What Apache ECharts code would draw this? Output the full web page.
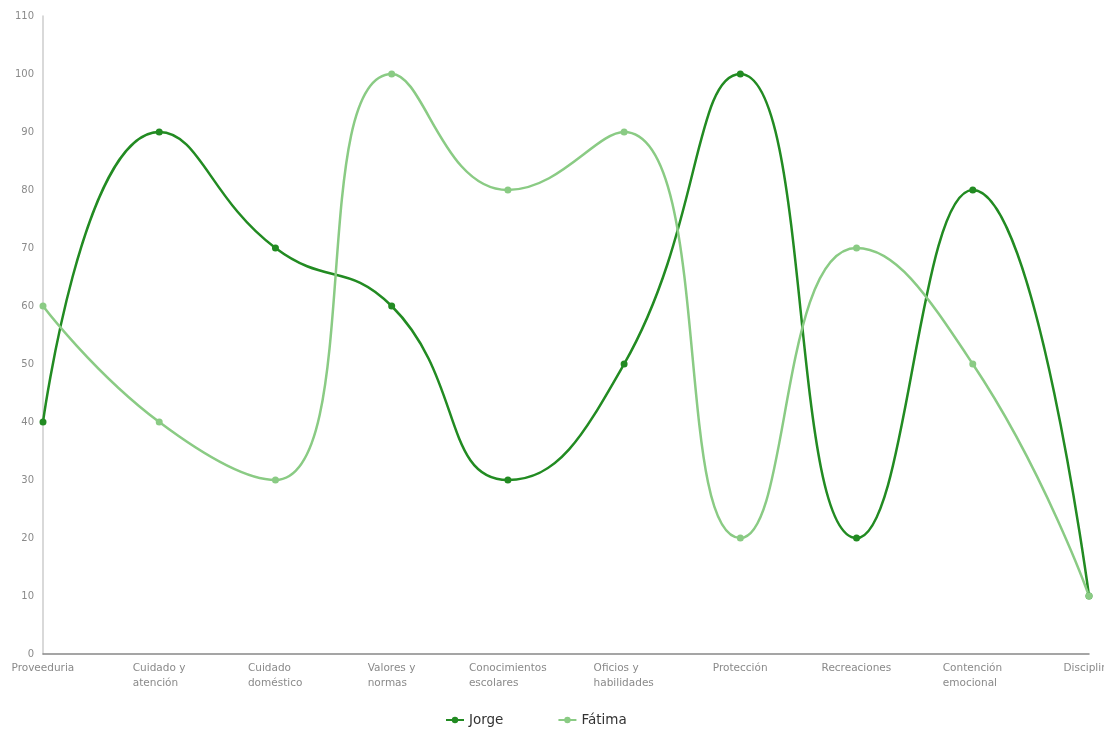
<!DOCTYPE html>
<html><head><meta charset="utf-8">
<script src="https://cdn.jsdelivr.net/npm/echarts@6/dist/echarts.min.js"></script>
<style>html,body{margin:0;padding:0;background:#fff}#c{width:1104px;height:731px}</style>
</head><body><div id="c"></div>
<script>
const categories = ["Proveeduria","Cuidado y\natención","Cuidado\ndoméstico","Valores y\nnormas","Conocimientos\nescolares","Oficios y\nhabilidades","Protección","Recreaciones","Contención\nemocional","Disciplina"];
const jorge = [40, 90, 70, 60, 30, 50, 100, 20, 80, 10];
const fatima = [60, 40, 30, 100, 80, 90, 20, 70, 50, 10];
const seriesNames = ["Jorge", "Fátima"];
const chart = echarts.init(document.getElementById('c'));
const font = '"DejaVu Sans", Arial, sans-serif';
const labelSize = 10.5;
const ctx = document.createElement('canvas').getContext('2d');
ctx.font = labelSize + 'px ' + font;
const rich = {};
categories.forEach((c, i) => {
  const w = Math.max(...c.split('\n').map(s => ctx.measureText(s).width));
  rich['r' + i] = {width: Math.ceil(w), align: 'left', fontSize: labelSize, lineHeight: 15, color: '#8a8a8a', fontFamily: font};
});
chart.setOption({
  animation: false,
  textStyle: {fontFamily: font},
  grid: {left: 43, right: 15, top: 16, bottom: 77, outerBoundsMode: 'none', containLabel: false},
  legend: {
    bottom: -1, left: 440, itemGap: 54,
    itemWidth: 18, itemHeight: 8, itemStyle: {borderWidth: 0},
    textStyle: {fontSize: 13.5, color: '#333', fontFamily: font},
    data: seriesNames
  },
  xAxis: {
    type: 'category', boundaryGap: false, data: categories,
    axisLine: {lineStyle: {color: '#888', width: 1.5}},
    axisTick: {show: false},
    axisLabel: {color: '#8a8a8a', fontSize: labelSize, lineHeight: 15, margin: 7, interval: 0, align: 'center',
      hideOverlap: false,
      formatter: (v, i) => v.split('\n').map(s => '{r' + i + '|' + s + '}').join('\n'),
      rich: rich},
    splitLine: {show: false}
  },
  yAxis: {
    type: 'value', min: 0, max: 110, interval: 10,
    axisLine: {show: true, lineStyle: {color: '#ccc', width: 1.5}},
    axisTick: {show: false},
    axisLabel: {color: '#8a8a8a', fontSize: 10, margin: 9},
    splitLine: {show: false}
  },
  series: [
    {name: seriesNames[0], type: 'line', data: jorge, smooth: 0.5, symbol: 'circle', symbolSize: 7,
     lineStyle: {width: 2.5, color: '#228b22'}, itemStyle: {color: '#228b22'}},
    {name: seriesNames[1], type: 'line', data: fatima, smooth: 0.5, symbol: 'circle', symbolSize: 7,
     lineStyle: {width: 2.5, color: '#8acb84'}, itemStyle: {color: '#8acb84'}}
  ]
});
</script></body></html>
